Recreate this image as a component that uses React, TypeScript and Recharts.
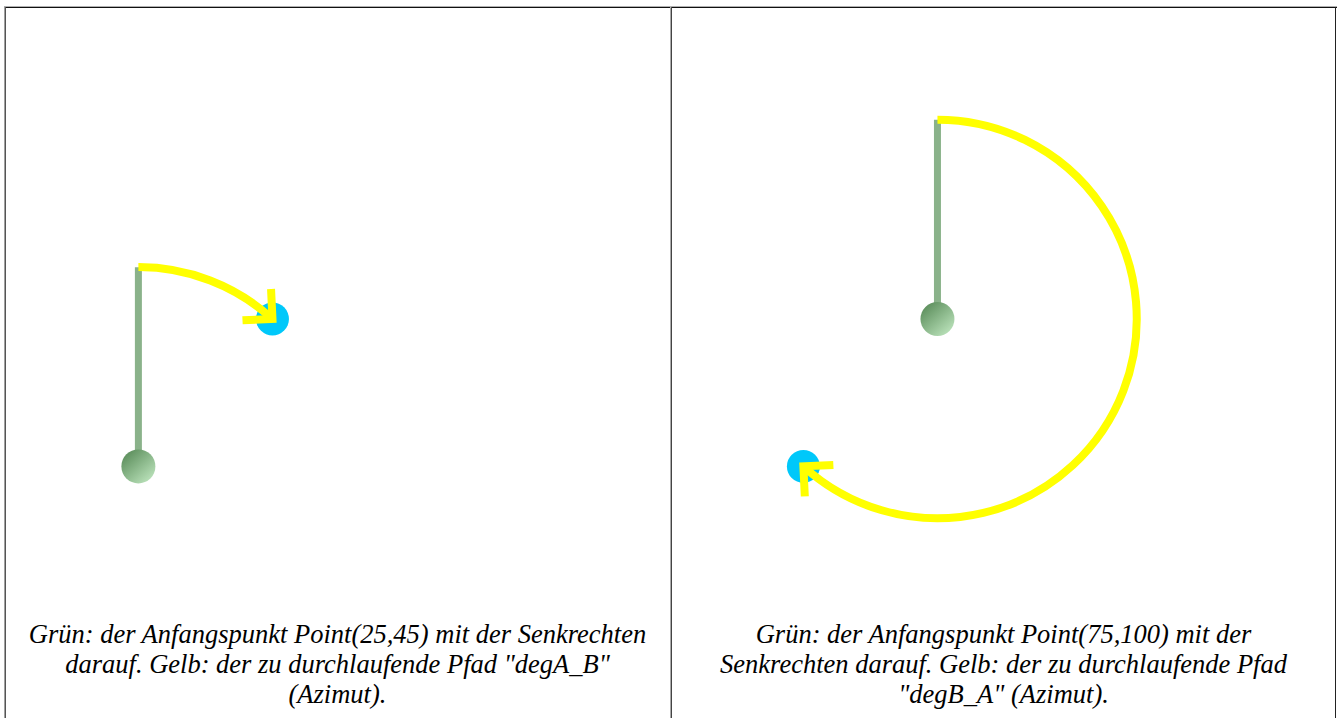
import React from 'react';
import { ComposedChart, XAxis, YAxis, Scatter, ReferenceLine } from 'recharts';

// Points of the construction (data units)
const pointLabels = ['A', 'B'];
const pointXs = [25, 75];
const pointYs = [45, 100];

// Each panel: start point index -> end point index
const panelStarts = [0, 1];
const panelEnds = [1, 0];
const pathNames = ['degA_B', 'degB_A'];

const captionLines = [
  ['Grün: der Anfangspunkt Point(25,45) mit der Senkrechten', 'darauf. Gelb: der zu durchlaufende Pfad "degA_B"', '(Azimut).'],
  ['Grün: der Anfangspunkt Point(75,100) mit der', 'Senkrechten darauf. Gelb: der zu durchlaufende Pfad', '"degB_A" (Azimut).'],
];

const xDomain: [number, number] = [-24, 224];
const yDomain: [number, number] = [0, 216];

const CHART_W = 665;
const CHART_H = 579;
const panelLefts = [7, 672];
const cellLefts = [5, 672];
const cellWidths = [665, 663];

const GREEN_LINE = '#8ab28a';
const YELLOW = '#ffff00';
const BLUE = '#00c8fa';
const ARM = 30;

const ArcShape = (props: any) => {
  const { x1, y1, x2, y2 } = props;
  if ([x1, y1, x2, y2].some((v) => typeof v !== 'number' || isNaN(v))) return null;
  const dx = x2 - x1;
  const dy = y2 - y1;
  const r = Math.hypot(dx, dy);
  const theta = Math.atan2(dx, -dy); // azimuth on screen, clockwise from north
  let az = (theta * 180) / Math.PI;
  if (az < 0) az += 360;
  const large = az > 180 ? 1 : 0;
  const d = `M ${x1} ${y1 - r} A ${r} ${r} 0 ${large} 1 ${x2} ${y2}`;
  // reverse tangent direction at the end
  const rx = -Math.cos(theta);
  const ry = -Math.sin(theta);
  const rot = (a: number) => [rx * Math.cos(a) - ry * Math.sin(a), rx * Math.sin(a) + ry * Math.cos(a)];
  const [ax, ay] = rot(Math.PI / 4);
  const [bx, by] = rot(-Math.PI / 4);
  const arrow = `M ${x2 + ax * ARM} ${y2 + ay * ARM} L ${x2} ${y2} L ${x2 + bx * ARM} ${y2 + by * ARM}`;
  return (
    <g>
      {/* end point (target) drawn beneath the path */}
      <circle cx={x2} cy={y2} r={16.5} fill={BLUE} />
      <path d={d} fill="none" stroke={YELLOW} strokeWidth={8} />
      <path d={arrow} fill="none" stroke={YELLOW} strokeWidth={8} strokeLinejoin="miter" />
    </g>
  );
};

const Panel = ({ index }: { index: number }) => {
  const s = panelStarts[index];
  const e = panelEnds[index];
  const sx = pointXs[s];
  const sy = pointYs[s];
  const ex = pointXs[e];
  const ey = pointYs[e];
  const rData = Math.hypot(ex - sx, ey - sy);
  const gid = `greenGrad${index}`;
  return (
    <ComposedChart width={CHART_W} height={CHART_H} margin={{ top: 0, right: 0, bottom: 0, left: 0 }}>
      <defs>
        <linearGradient id={gid} x1="0.15" y1="0.1" x2="0.85" y2="0.9">
          <stop offset="0%" stopColor="#5e905e" />
          <stop offset="100%" stopColor="#b8e0b8" />
        </linearGradient>
      </defs>
      <XAxis type="number" dataKey="x" domain={xDomain} allowDataOverflow hide />
      <YAxis type="number" dataKey="y" domain={yDomain} allowDataOverflow hide />
      <ReferenceLine
        segment={[{ x: sx, y: sy }, { x: sx, y: sy + rData }]}
        stroke={GREEN_LINE}
        strokeWidth={7}
        ifOverflow="visible"
      />
      <Scatter
        name={pointLabels[s]}
        data={[{ x: sx, y: sy }]}
        dataKey="y"
        isAnimationActive={false}
        shape={(p: any) => <circle cx={p.cx} cy={p.cy} r={17} fill={`url(#${gid})`} />}
      />
      <ReferenceLine
        segment={[{ x: sx, y: sy }, { x: ex, y: ey }]}
        shape={<ArcShape />}
        ifOverflow="visible"
        name={`${pathNames[index]} → ${pointLabels[e]}`}
      />
    </ComposedChart>
  );
};

export default function App() {
  return (
    <div style={{ position: 'absolute', left: 0, top: 0, width: 1341, height: 718, overflow: 'hidden', background: '#fff' }}>
      {/* table borders */}
      <div style={{ position: 'absolute', left: 4, top: 6, width: 1333, height: 1, background: '#b0b0b0' }} />
      <div style={{ position: 'absolute', left: 4, top: 7, width: 1333, height: 1, background: '#111' }} />
      <div style={{ position: 'absolute', left: 4, top: 7, width: 1, height: 711, background: '#a0a0a0' }} />
      <div style={{ position: 'absolute', left: 5, top: 7, width: 1, height: 711, background: '#555' }} />
      <div style={{ position: 'absolute', left: 670, top: 7, width: 1, height: 711, background: '#aaa' }} />
      <div style={{ position: 'absolute', left: 671, top: 7, width: 1, height: 711, background: '#444' }} />
      <div style={{ position: 'absolute', left: 1335, top: 7, width: 1, height: 711, background: '#222' }} />
      {[0, 1].map((i) => (
        <div key={i} style={{ position: 'absolute', left: panelLefts[i], top: 8 }}>
          <Panel index={i} />
        </div>
      ))}
      {[0, 1].map((i) => (
        <div
          key={`c${i}`}
          style={{
            position: 'absolute',
            left: cellLefts[i],
            top: 619,
            width: cellWidths[i],
            textAlign: 'center',
            fontFamily: '"Liberation Serif", "Times New Roman", Times, serif',
            fontStyle: 'italic',
            fontSize: 26.5,
            lineHeight: '30px',
            color: '#000',
            whiteSpace: 'nowrap',
          }}
        >
          {captionLines[i].map((l, j) => (
            <div key={j}>{l}</div>
          ))}
        </div>
      ))}
    </div>
  );
}
